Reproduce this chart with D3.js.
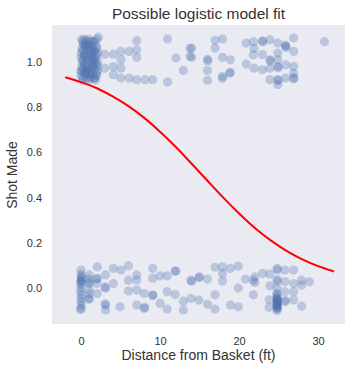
<!DOCTYPE html>
<html><head><meta charset="utf-8">
<script src="https://cdn.jsdelivr.net/npm/d3@7"></script>
<style>body{margin:0;background:#fff}svg{display:block}text{font-family:"Liberation Sans",Arial,sans-serif;fill:#333}</style>
</head><body><svg id="c" width="352" height="370"></svg>
<script>
// Made shots (distance ft, jittered y)
const madeX = [0.1,0.5,1.0,1.5,2.0,2.2, 0.1,0.6,1.1,1.6,2.0, 0.0,0.4,0.9,1.4,1.9, 0.1,0.5,1.0,1.5,2.1, 0.0,0.6,1.2,1.7,2.0, 0.2,0.9,1.8,0.3,1.3,0.7,1.7,0.2,1.2,2.1,0.0,1.0,
  0.2,0.7,1.2,1.7, 0.25,0.75,1.25,1.75, 0.2,0.7,1.2,1.7, 0.25,0.75,1.25,1.75, 0.2,0.7,1.2,1.7,
  0.45,0.95,1.45,1.95, 0.45,0.95,1.45,1.95, 0.45,0.95,1.45,1.95, 0.45,0.95,1.45,1.95, 0.05,2.1,0.05,2.1,
  3.0,3.0,4.1,4.1,4.1,5.05,5.05,5.05,5.05,6.1,6.1,7.05,7.05,7.05,7.05,8.1,9.07,10.95,14.0,14.0,12.0,12.95,10.95,
  16.0,16.05,16.0,16.0,16.96,16.96,17.9,17.9,18.9,17.9,18.9,18.8,17.9,13.8,13.8,
  20.9,20.9,21.8,21.9,21.8,21.9,22.95,23.0,22.95,22.95,23.9,23.9,23.95,23.9,23.9,24.9,24.9,24.9,24.9,24.95,24.9,24.95,24.9,
  25.9,25.95,25.85,25.9,25.9,26.9,26.9,26.9,26.9,26.9,26.95,30.8];
const madeY = [1.10,1.10,1.10,1.09,1.10,1.11, 1.06,1.07,1.06,1.05,1.06, 1.02,1.03,1.02,1.01,1.02, 0.98,0.99,0.97,0.98,0.98, 0.94,0.95,0.94,0.93,0.94, 0.92,0.92,0.92,1.08,1.04,0.96,1.00,1.00,0.95,1.04,0.96,1.08,
  1.09,1.09,1.09,1.09, 1.05,1.05,1.05,1.05, 1.01,1.01,1.01,1.01, 0.97,0.97,0.97,0.97, 0.93,0.93,0.93,0.93,
  1.07,1.07,1.07,1.07, 1.03,1.03,1.03,1.03, 0.99,0.99,0.99,0.99, 0.95,0.95,0.95,0.95, 1.04,1.00,0.96,0.96,
  1.035,0.973,1.035,0.98,0.944,1.047,1.01,0.973,0.929,1.047,0.929,1.094,1.054,1.021,0.922,0.922,0.922,1.102,1.062,1.021,1.018,0.963,0.912,
  1.012,1.005,0.963,0.919,1.096,1.062,1.102,1.021,1.01,0.936,0.955,0.95,0.928,1.06,1.025,
  1.084,0.991,1.09,1.06,1.032,0.973,1.094,1.09,1.033,0.966,1.099,1.01,1.005,0.973,0.922,1.084,1.04,1.01,0.98,0.975,0.922,0.918,0.90,
  1.07,1.065,1.075,0.988,0.929,1.106,1.047,0.98,0.951,0.926,0.93,1.09];
// Missed shots
const missX = [0.0,0.05,-0.05,0.0,0.05,0.0,0.0,-0.05,0.05,0.0, 0.0,0.05,-0.05,0.0,0.05,0.0,
  1.05,1.05,1.0,1.05,1.05,1.0,1.0,1.05, 2.06,2.06,2.0,2.06,2.0, 3.1,3.1,3.05,3.1,3.05,3.1, 4.1,4.1,
  5.06,4.94,6.0,6.0,6.0,7.05,7.05,7.05,7.05,8.0,8.05,8.0,9.07,9.07,9.07,9.1,10.0,10.0,10.9,10.9,10.9,12.0,11.9,11.9,13.9,12.95,12.95,13.9,14.9,14.9,16.0,16.0,
  16.96,16.96,16.96,17.9,17.9,17.9,18.9,18.9,19.9,19.9,19.9,20.8,21.8,21.8,22.0,22.0,23.0,23.9,23.9,
  24.8,24.85,24.8,24.85,23.8,23.8,24.8,24.8,24.8,24.85,24.8,24.85,24.75,24.8,24.8,24.85,
  24.8,24.8,24.85,24.8,24.85,24.8,24.8,24.85,
  25.8,25.8,25.8,25.8,25.85,26.9,26.9,26.9,26.9,27.9,27.9,27.9,28.9,14.0,15.0];
const missY = [0.08,0.035,0.03,0.0,-0.03,-0.06,-0.09,-0.095,0.05,0.015, 0.06,0.045,-0.015,-0.045,-0.075,0.025,
  0.058,0.02,0.025,-0.009,-0.046,-0.05,0.04,-0.025, 0.094,0.043,0.04,-0.024,0.02, 0.058,0.0,0.005,-0.075,-0.07,-0.097, 0.087,0.02,
  0.08,-0.083,0.099,0.035,-0.013,0.058,0.035,-0.009,-0.075,-0.09,-0.085,-0.024,0.087,0.043,-0.034,-0.03,0.054,-0.068,0.054,-0.016,-0.093,0.075,-0.028,0.075,0.035,-0.058,-0.097,-0.046,0.046,-0.053,0.04,-0.072,
  0.092,-0.03,-0.093,0.094,0.065,0.031,0.087,-0.075,0.097,0.0,-0.083,0.04,0.035,-0.03,0.05,0.025,0.065,0.062,0.01,
  0.087,0.08,0.038,0.03,-0.052,-0.085,0.0,-0.024,-0.06,-0.055,-0.09,-0.085,-0.07,-0.04,-0.075,-0.065,
  -0.03,-0.05,-0.06,-0.08,-0.09,-0.1,-0.045,-0.07,
  0.08,0.028,-0.016,-0.06,-0.055,0.08,0.02,-0.016,-0.053,0.035,0.013,-0.08,0.028,0.03,0.05];
// Logistic fit curve
const curveX = [-2,0,2,4,6,8,10,12,14,16,18,20,22,24,26,28,30,32];
const curveY = [0.933,0.911,0.884,0.848,0.805,0.753,0.692,0.624,0.550,0.475,0.400,0.330,0.266,0.211,0.165,0.127,0.097,0.073];
const xTicks = [0,10,20,30];
const yTicks = [0,0.2,0.4,0.6,0.8,1.0];

const svg = d3.select("#c");
const L=52,R=345,T=25,B=324;
const x = d3.scaleLinear().domain([-3.67,33.4]).range([L,R]);
const y = d3.scaleLinear().domain([-0.159,1.164]).range([B,T]);

svg.append("rect").attr("x",L).attr("y",T).attr("width",R-L).attr("height",B-T).attr("fill","#eaeaf2");

const pts = madeX.map((d,i)=>[d,madeY[i]]).concat(missX.map((d,i)=>[d,missY[i]]));
svg.append("g").selectAll("circle").data(pts).join("circle")
  .attr("cx",d=>x(d[0])).attr("cy",d=>y(d[1])).attr("r",4.6)
  .attr("fill","#4c72b0").attr("fill-opacity",0.3);

svg.append("path").datum(curveX.map((d,i)=>[d,curveY[i]]))
  .attr("d",d3.line().x(d=>x(d[0])).y(d=>y(d[1])).curve(d3.curveMonotoneX))
  .attr("fill","none").attr("stroke","#ff0000").attr("stroke-width",2);

const xa = svg.append("g").attr("transform",`translate(0,${B})`)
  .call(d3.axisBottom(x).tickValues(xTicks).tickSize(0).tickPadding(13).tickFormat(d3.format("d")));
xa.select(".domain").remove();
xa.selectAll("text").attr("font-size",11).attr("fill","#333").style("font-family","Liberation Sans, Arial, sans-serif");
const ya = svg.append("g").attr("transform",`translate(${L},0)`)
  .call(d3.axisLeft(y).tickValues(yTicks).tickSize(0).tickPadding(10).tickFormat(d3.format(".1f")));
ya.select(".domain").remove();
ya.selectAll("text").attr("font-size",11).attr("fill","#333").style("font-family","Liberation Sans, Arial, sans-serif");

svg.append("text").attr("x",198.5).attr("y",19).attr("text-anchor","middle").attr("font-size",15.5).text("Possible logistic model fit");
svg.append("text").attr("x",198.5).attr("y",360).attr("text-anchor","middle").attr("font-size",14).text("Distance from Basket (ft)");
svg.append("text").attr("transform","translate(17,175) rotate(-90)").attr("text-anchor","middle").attr("font-size",14).text("Shot Made");
</script></body></html>
